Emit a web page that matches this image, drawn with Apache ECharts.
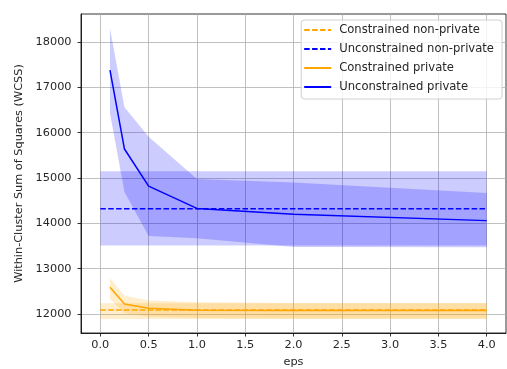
<html>
<head>
<meta charset="utf-8">
<script src="https://cdn.jsdelivr.net/npm/echarts@6/dist/echarts.min.js"></script>
<style>
    body { margin: 0; background: #fff; }
    #main { width: 507px; height: 369px; }
</style>
</head>
<body>
<div id="main"></div>
<script type="text/javascript">
    // eps values used for the private runs
    var epsVals = [0.1, 0.25, 0.5, 1, 2, 4];
    var uncPrivMean = [17380, 15640, 14820, 14330, 14200, 14060];
    var uncPrivLow  = [16430, 14690, 13720, 13670, 13480, 13470];
    var uncPrivHigh = [18300, 16560, 15910, 14980, 14900, 14670];
    var conPrivMean = [12590, 12220, 12125, 12080, 12075, 12075];
    var conPrivLow  = [12330, 12020, 11940, 11910, 11900, 11900];
    var conPrivHigh = [12790, 12400, 12295, 12260, 12240, 12240];

    // non-private baselines (flat across eps)
    var npEps = [0, 4];
    var uncNpMean = [14320, 14320];
    var uncNpLow  = [13510, 13510];
    var uncNpHigh = [15150, 15150];
    var conNpMean = [12085, 12085];
    var conNpLow  = [11890, 11890];
    var conNpHigh = [12235, 12235];

    var xTicks = [0, 0.5, 1, 1.5, 2, 2.5, 3, 3.5, 4];
    var yTicks = [12000, 13000, 14000, 15000, 16000, 17000, 18000];

    var ORANGE = '#ffa500', BLUE = '#0000ff';
    var FONT = 'DejaVu Sans';

    function pairs(xs, ys) {
        return xs.map(function (x, i) { return [x, ys[i]]; });
    }

    // fill_between style band: one polygon through lower then upper edge
    function band(id, xs, lo, hi, color) {
        return {
            name: id, type: 'custom', silent: true, z: 1,
            data: xs.map(function (x, i) { return [x, lo[i], hi[i]]; }),
            encode: {x: 0, y: [1, 2]},
            renderItem: function (params, api) {
                if (params.dataIndex !== 0) return null;
                var pts = [];
                for (var i = 0; i < xs.length; i++) pts.push(api.coord([xs[i], lo[i]]));
                for (var j = xs.length - 1; j >= 0; j--) pts.push(api.coord([xs[j], hi[j]]));
                return {
                    type: 'polygon',
                    shape: {points: pts},
                    style: {fill: color, opacity: 0.2}
                };
            }
        };
    }

    function line(name, xs, ys, color, dashed) {
        return {
            name: name, type: 'line', symbol: 'none', z: 5,
            itemStyle: {color: color},
            lineStyle: {color: color, width: 1.5, type: dashed ? [5.5, 2.4] : 'solid'},
            data: pairs(xs, ys)
        };
    }

    var series = [
        band('conNp', npEps, conNpLow, conNpHigh, ORANGE),
        band('uncNp', npEps, uncNpLow, uncNpHigh, BLUE),
        band('conPriv', epsVals, conPrivLow, conPrivHigh, ORANGE),
        band('uncPriv', epsVals, uncPrivLow, uncPrivHigh, BLUE),
        line('Constrained non-private', npEps, conNpMean, ORANGE, true),
        line('Unconstrained non-private', npEps, uncNpMean, BLUE, true),
        line('Constrained private', epsVals, conPrivMean, ORANGE, false),
        line('Unconstrained private', epsVals, uncPrivMean, BLUE, false)
    ];

    var option = {
        animation: false,
        backgroundColor: '#fff',
        grid: {left: 81, right: 1, top: 14, bottom: 36, outerBoundsMode: 'none', containLabel: false,
            show: true, borderColor: '#000', borderWidth: 0.8},
        legend: {
            orient: 'vertical', right: 5, top: 20,
            data: ['Constrained non-private', 'Unconstrained non-private', 'Constrained private', 'Unconstrained private'],
            itemWidth: 27, itemHeight: 14, itemGap: 7,
            padding: [4, 8, 6, 2],
            itemStyle: {opacity: 0},
            backgroundColor: 'rgba(255,255,255,0.8)',
            borderColor: '#d0d0d0', borderWidth: 1, borderRadius: 3,
            textStyle: {fontFamily: FONT, fontSize: 11.6, color: '#262626', padding: [0, 0, 0, 3]}
        },
        xAxis: {
            type: 'value', min: -0.2, max: 4.2,
            name: 'eps', nameLocation: 'middle', nameGap: 24,
            nameTextStyle: {fontFamily: FONT, fontSize: 11.3, color: '#262626'},
            axisLine: {show: true, onZero: false, lineStyle: {color: '#000', width: 0.8}},
            axisTick: {show: true, length: 3.5, customValues: xTicks, lineStyle: {color: '#000', width: 0.8}},
            axisLabel: {customValues: xTicks, margin: 7, formatter: function (v) { return v.toFixed(1); },
                fontFamily: FONT, fontSize: 11.3, color: '#262626'},
            splitLine: {show: true, lineStyle: {color: '#b0b0b0', width: 0.8}}
        },
        yAxis: {
            type: 'value', min: 11580, max: 18620,
            name: 'Within-Cluster Sum of Squares (WCSS)', nameLocation: 'middle', nameGap: 52, nameRotate: 90,
            nameTextStyle: {fontFamily: FONT, fontSize: 11.3, color: '#262626'},
            axisLine: {show: true, onZero: false, lineStyle: {color: '#000', width: 0.8}},
            axisTick: {show: true, length: 3.5, customValues: yTicks, lineStyle: {color: '#000', width: 0.8}},
            axisLabel: {customValues: yTicks, margin: 9.5, formatter: function (v) { return String(v); },
                fontFamily: FONT, fontSize: 11.3, color: '#262626'},
            splitLine: {show: true, lineStyle: {color: '#b0b0b0', width: 0.8}}
        },
        series: series
    };

    var myChart = echarts.init(document.getElementById('main'), null, {renderer: 'canvas'});
    myChart.setOption(option);
</script>
</body>
</html>
